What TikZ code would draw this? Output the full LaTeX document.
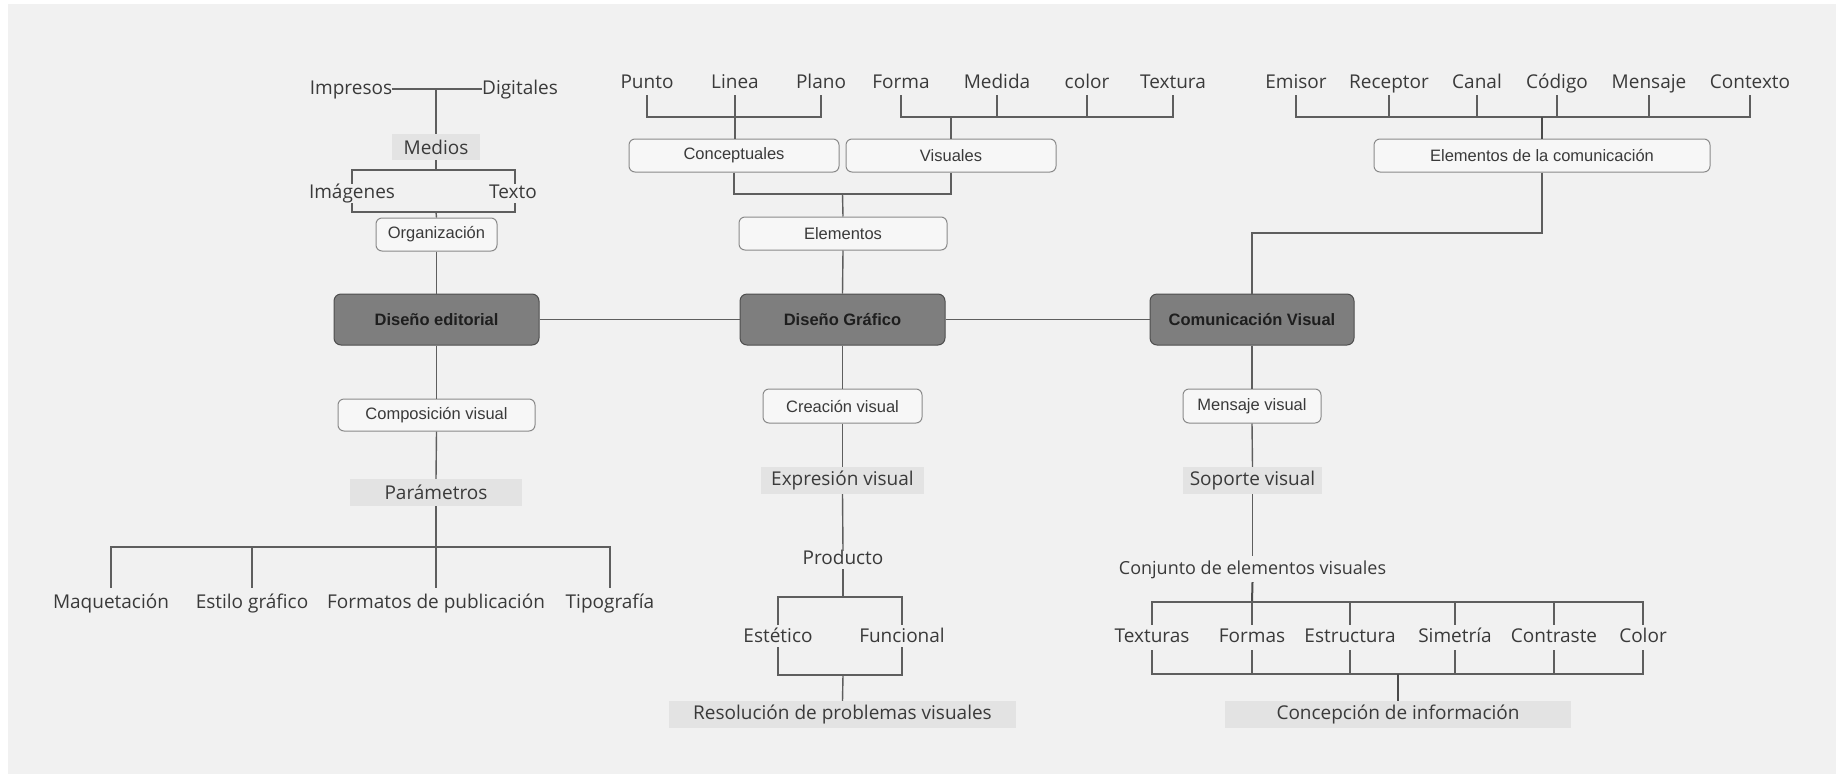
\documentclass[tikz,border=0pt]{standalone}
\usepackage{fontspec}
\newfontfamily\osans{Open Sans}
\newfontfamily\lsans{Liberation Sans}
\definecolor{bgc}{HTML}{F1F1F1}
\definecolor{txt}{HTML}{3A3A3A}
\definecolor{linec}{HTML}{5E5E5E}
\definecolor{bordc}{HTML}{8A8A8A}
\definecolor{boxfill}{HTML}{F7F7F7}
\definecolor{gfill}{HTML}{E3E3E3}
\definecolor{mainfill}{HTML}{7E7E7E}
\definecolor{maindraw}{HTML}{4E4E4E}
\definecolor{maintxt}{HTML}{1E1E1E}
\tikzset{
  lbl/.style={inner sep=0pt, text height=14pt, text depth=4pt, minimum height=24pt,
    text=txt, font=\osans\fontsize{19}{22}\selectfont},
  slbl/.style={lbl, font=\osans\fontsize{18}{21}\selectfont},
  rbox/.style={draw=bordc, fill=boxfill, rounded corners=6pt, line width=1pt, inner sep=0pt,
    text=txt, font=\lsans\fontsize{16.5}{19}\selectfont},
  gbox/.style={fill=gfill, inner sep=0pt, text=txt, font=\osans\fontsize{19}{22}\selectfont},
  mainbox/.style={draw=maindraw, fill=mainfill, rounded corners=7pt, line width=1pt, inner sep=0pt,
    text=maintxt, font=\lsans\bfseries\fontsize{16.5}{19}\selectfont,
    minimum height=51pt},
  conn/.style={draw=linec, line width=1.4pt},
  thick conn/.style={draw=linec!80!black, line width=2pt}
}
\begin{document}
\begin{tikzpicture}[x=1pt,y=-1pt]
\useasboundingbox (0,0) rectangle (1836,774);
\fill[white] (0,0) rectangle (1836,774);
\fill[bgc] (8,4) rectangle (1836,774);

% ---- main boxes
\node[mainbox, minimum width=205pt] (DEd) at (436.5,319.5) {Diseño editorial};
\node[mainbox, minimum width=205pt] (DGr) at (842.5,319.5) {Diseño Gráfico};
\node[mainbox, minimum width=204pt] (CVi) at (1252,319.5) {Comunicación Visual};

% ---- editorial top
\node[lbl] (Impresos) at (351,89) {Impresos};
\node[lbl] (Digitales) at (520,89) {Digitales};
\node[gbox, minimum width=88pt, minimum height=26pt] (Medios) at (436,147) {Medios};
\node[lbl] (Imagenes) at (352,193) {Imágenes};
\node[lbl] (Texto) at (513,193) {Texto};
\node[rbox, minimum width=121pt, minimum height=33pt] (Organizacion) at (436.5,234.5) {Organización};

% ---- graphic top
\node[lbl] (Punto) at (647,83) {Punto};
\node[lbl] (Linea) at (735,83) {Linea};
\node[lbl] (Plano) at (821,83) {Plano};
\node[lbl] (Forma) at (901,83) {Forma};
\node[lbl] (Medida) at (997,83) {Medida};
\node[lbl] (colorl) at (1087,83) {color};
\node[lbl] (Textura) at (1173,83) {Textura};
\node[rbox, minimum width=210pt, minimum height=33pt] (Conceptuales) at (734,155.5) {Conceptuales};
\node[rbox, minimum width=210pt, minimum height=33pt] (Visuales) at (951,155.5) {Visuales};
\node[rbox, minimum width=208pt, minimum height=33pt] (Elementos) at (843,233.5) {Elementos};

% ---- communication top
\node[lbl] (Emisor) at (1296,83) {Emisor};
\node[lbl] (Receptor) at (1389,83) {Receptor};
\node[lbl] (Canal) at (1477,83) {Canal};
\node[lbl] (Codigo) at (1557,83) {Código};
\node[lbl] (Mensaje) at (1649,83) {Mensaje};
\node[lbl] (Contexto) at (1750,83) {Contexto};
\node[rbox, minimum width=336pt, minimum height=33pt] (ElemCom) at (1542,155.5) {Elementos de la comunicación};

% ---- editorial bottom
\node[rbox, minimum width=197pt, minimum height=32pt] (CompVis) at (436.5,415) {Composición visual};
\node[gbox, minimum width=172pt, minimum height=27pt] (Parametros) at (436,492.5) {Parámetros};
\node[lbl] (Maquetacion) at (111,603) {Maquetación};
\node[lbl] (Estilo) at (252,603) {Estilo gráfico};
\node[lbl] (Formatos) at (436,603) {Formatos de publicación};
\node[lbl] (Tipografia) at (610,603) {Tipografía};

% ---- graphic bottom
\node[rbox, minimum width=159pt, minimum height=34pt] (CreaVis) at (842.5,406) {Creación visual};
\node[gbox, minimum width=163pt, minimum height=27pt] (ExprVis) at (842.5,480.5) {Expresión visual};
\node[lbl] (Producto) at (843,559) {Producto};
\node[lbl] (Estetico) at (778,637) {Estético};
\node[lbl] (Funcional) at (902,637) {Funcional};
\node[gbox, minimum width=347pt, minimum height=27pt] (Resol) at (842.5,714.5) {Resolución de problemas visuales};

% ---- communication bottom
\node[rbox, minimum width=138pt, minimum height=34pt] (MenVis) at (1252,406) {Mensaje visual};
\node[gbox, minimum width=139pt, minimum height=27pt] (SopVis) at (1252.5,480.5) {Soporte visual};
\node[slbl] (Conjunto) at (1252.5,569) {Conjunto de elementos visuales};
\node[lbl] (Texturas) at (1152,637) {Texturas};
\node[lbl] (Formas) at (1252,637) {Formas};
\node[lbl] (Estructura) at (1350,637) {Estructura};
\node[lbl] (Simetria) at (1455,637) {Simetría};
\node[lbl] (Contraste) at (1554,637) {Contraste};
\node[lbl] (Colorl) at (1643,637) {Color};
\node[gbox, minimum width=346pt, minimum height=27pt] (Concep) at (1398,714.5) {Concepción de información};

% ---- junction coordinates
\coordinate (j1) at (436,89);
\coordinate (j2) at (436,170);
\coordinate (j3) at (436,212);
\coordinate (j4) at (735,117);
\coordinate (j5) at (951,117);
\coordinate (j6) at (842.5,194);
\coordinate (j7) at (1542,117);
\coordinate (j8) at (1252,233);
\coordinate (j9) at (436,547);
\coordinate (j10) at (843,597);
\coordinate (j11) at (843,675);
\coordinate (j12) at (1252,602);
\coordinate (j13) at (1398,674);

% ---- connectors: main row
\draw[conn] (DEd.east) -- (DGr.west);
\draw[conn] (DGr.east) -- (CVi.west);

% editorial top
\draw[conn] (Impresos.east) -- (Digitales.west);
\draw[conn] (j1) -- (Medios.north);
\draw[conn] (Medios.south) -- (j2);
\draw[conn] ([yshift=-3pt]Imagenes.north) |- (j2);
\draw[conn] ([xshift=2pt,yshift=-3pt]Texto.north) |- (j2);
\draw[conn] ([yshift=2pt]Imagenes.south) |- (j3);
\draw[conn] ([xshift=2pt,yshift=2pt]Texto.south) |- (j3);
\draw[conn] (j3) -- (Organizacion.north);
\draw[conn] (Organizacion.south) -- (DEd.north);

% graphic top
\draw[conn] (Punto.south) |- (j4);
\draw[conn] (Plano.south) |- (j4);
\draw[conn] (Linea.south) -- (Linea.south |- Conceptuales.north);
\draw[conn] (Forma.south) |- (j5);
\draw[conn] (Textura.south) |- (j5);
\draw[conn] (Medida.south) -- (Medida.south |- j5);
\draw[conn] (colorl.south) -- (colorl.south |- j5);
\draw[conn] (j5) -- (Visuales.north);
\draw[conn] (Conceptuales.south) |- (j6);
\draw[conn] (Visuales.south) |- (j6);
\draw[conn] (j6) -- (Elementos.north);
\draw[conn] (Elementos.south) -- (DGr.north);

% communication top
\draw[conn] (Emisor.south) |- (j7);
\draw[conn] (Contexto.south) |- (j7);
\draw[conn] (Receptor.south) -- (Receptor.south |- j7);
\draw[conn] (Canal.south) -- (Canal.south |- j7);
\draw[conn] (Codigo.south) -- (Codigo.south |- j7);
\draw[conn] (Mensaje.south) -- (Mensaje.south |- j7);
\draw[thick conn] (j7) -- (ElemCom.north);
\draw[conn] (ElemCom.south) |- (j8) -- (CVi.north);

% editorial bottom
\draw[conn] (DEd.south) -- (CompVis.north);
\draw[conn] (CompVis.south) -- (Parametros.north);
\draw[conn] (Parametros.south) -- (j9);
\draw[conn] ([yshift=3pt]Maquetacion.north) |- (j9);
\draw[conn] ([yshift=3pt]Tipografia.north) |- (j9);
\draw[conn] ([yshift=3pt]Estilo.north) -- (Estilo.north |- j9);
\draw[conn] ([yshift=3pt]Formatos.north) -- (Formatos.north |- j9);

% graphic bottom
\draw[conn] (DGr.south) -- (CreaVis.north);
\draw[conn] (CreaVis.south) -- (ExprVis.north);
\draw[conn] (ExprVis.south) -- ([yshift=-4pt]Producto.north);
\draw[conn] ([yshift=2pt]Producto.south) -- (j10);
\draw[conn] (Estetico.north) |- (j10);
\draw[conn] (Funcional.north) |- (j10);
\draw[conn] ([yshift=2pt]Estetico.south) |- (j11);
\draw[conn] ([yshift=2pt]Funcional.south) |- (j11);
\draw[conn] (j11) -- (Resol.north);

% communication bottom
\draw[conn] (CVi.south) -- (MenVis.north);
\draw[conn] (MenVis.south) -- (SopVis.north);
\draw[conn] (SopVis.south) -- ([yshift=1pt]Conjunto.north);
\draw[thick conn] ([yshift=-1pt]Conjunto.south) -- (j12);
\draw[conn] (Texturas.north) |- (j12);
\draw[conn] (Colorl.north) |- (j12);
\draw[conn] (Formas.north) -- (Formas.north |- j12);
\draw[conn] (Estructura.north) -- (Estructura.north |- j12);
\draw[conn] (Simetria.north) -- (Simetria.north |- j12);
\draw[conn] (Contraste.north) -- (Contraste.north |- j12);
\draw[conn] ([yshift=-1pt]Texturas.south) |- (j13);
\draw[conn] ([yshift=-1pt]Colorl.south) |- (j13);
\draw[conn] ([yshift=-1pt]Formas.south) -- (Formas.south |- j13);
\draw[conn] ([yshift=-1pt]Estructura.south) -- (Estructura.south |- j13);
\draw[conn] ([yshift=-1pt]Simetria.south) -- (Simetria.south |- j13);
\draw[conn] ([yshift=-1pt]Contraste.south) -- (Contraste.south |- j13);
\draw[thick conn] (j13) -- (Concep.north);
\end{tikzpicture}
\end{document}
